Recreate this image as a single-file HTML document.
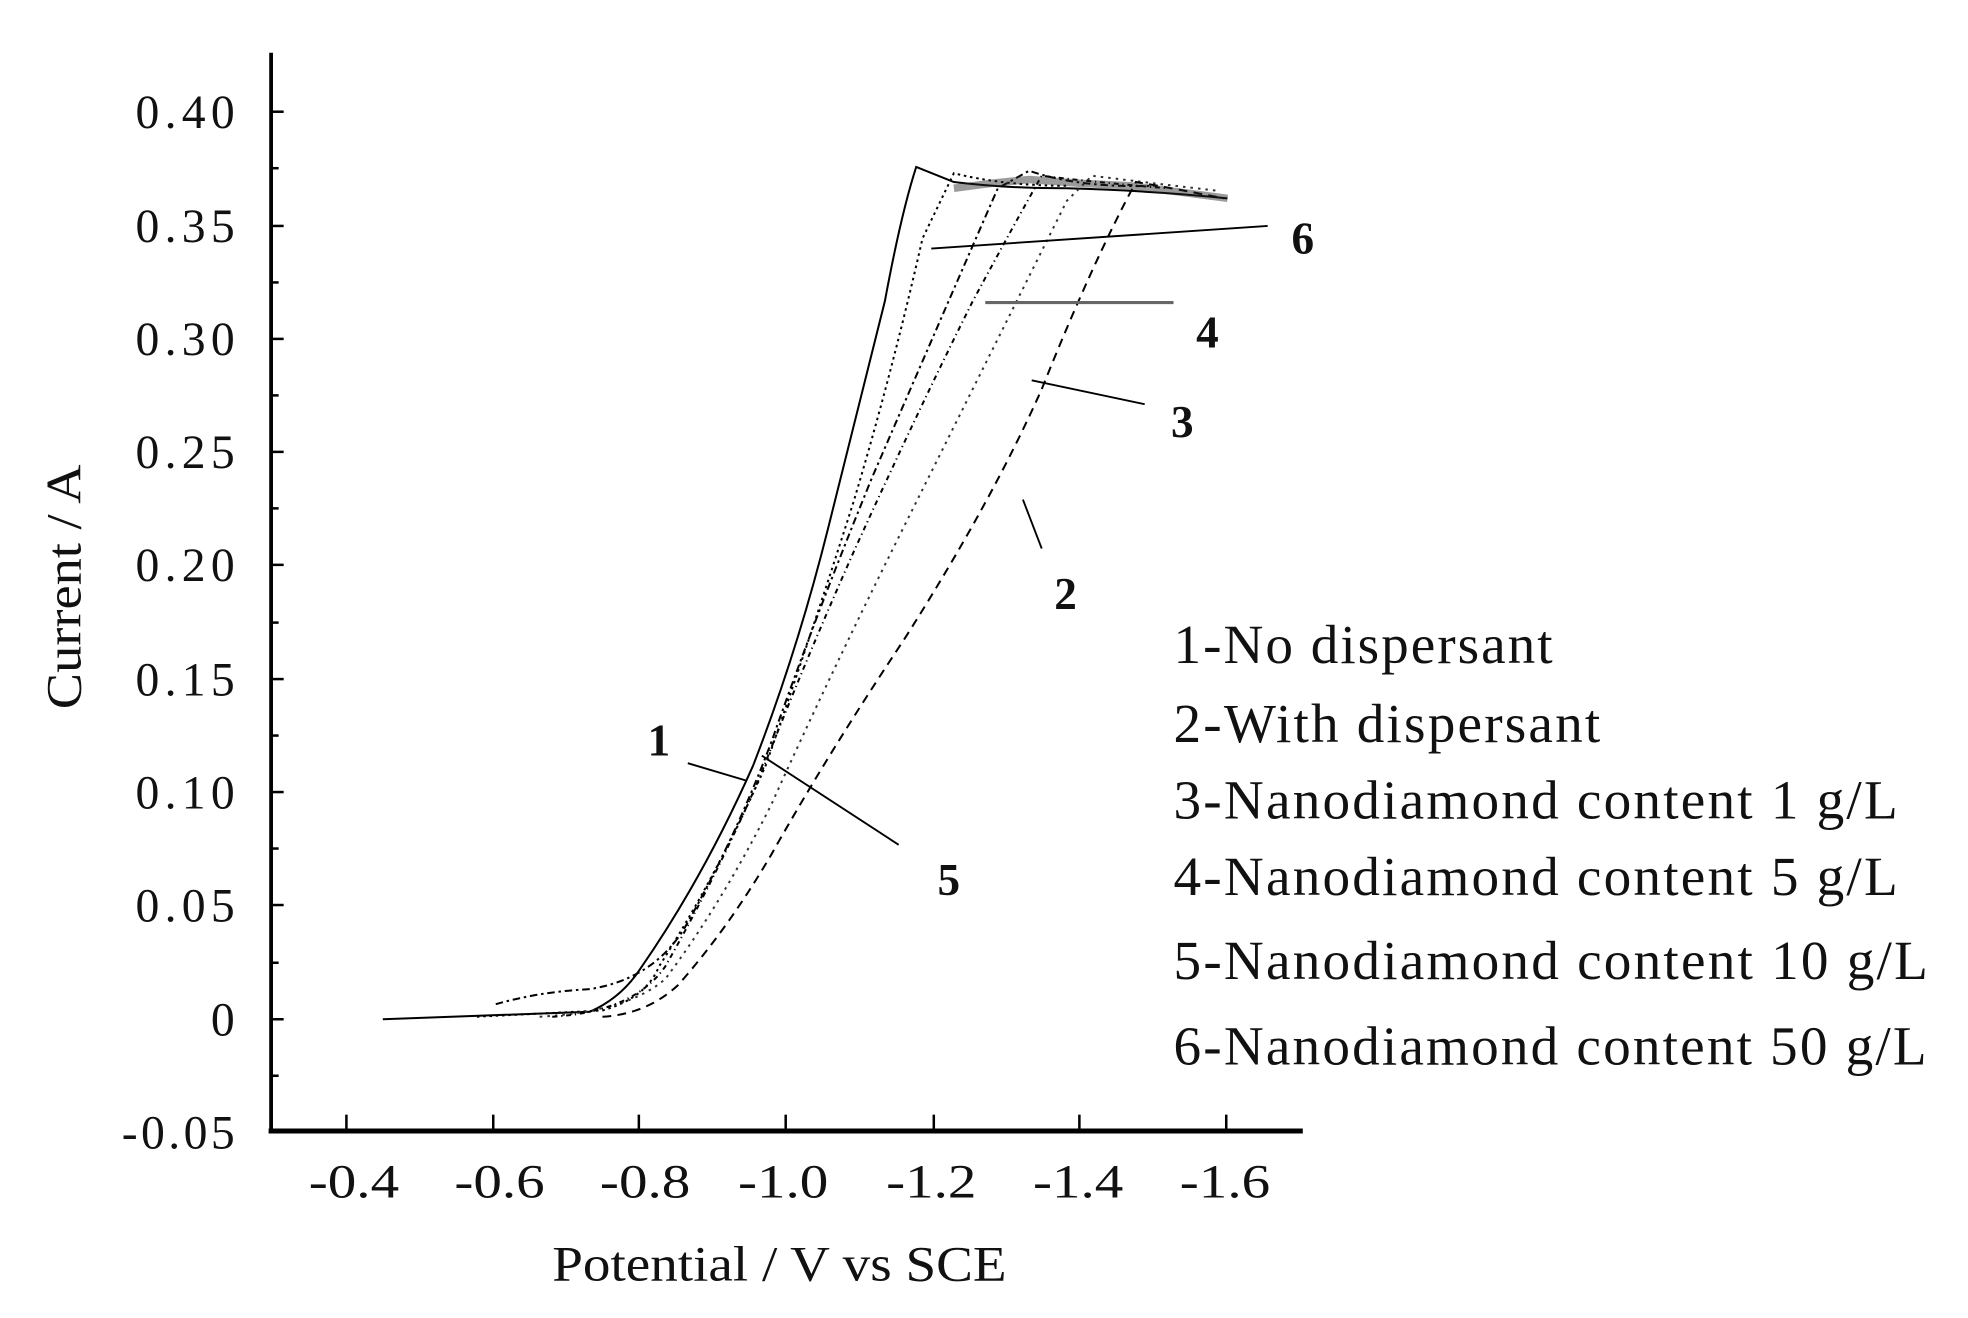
<!DOCTYPE html>
<html><head><meta charset="utf-8"><style>
html,body{margin:0;padding:0;background:#fff;}
svg{display:block;}
text{font-family:"Liberation Serif",serif;fill:#111;}
</style></head><body>
<svg width="1968" height="1318" viewBox="0 0 1568 1050" preserveAspectRatio="none" xmlns="http://www.w3.org/2000/svg">
<rect width="1568" height="1050" fill="#fff"/>
<!-- axes -->
<line x1="216" y1="42" x2="216" y2="902" stroke="#000" stroke-width="3"/>
<line x1="214" y1="901" x2="1038" y2="901" stroke="#000" stroke-width="4"/>
<g stroke="#000" stroke-width="2">
<line x1="216" y1="89" x2="226" y2="89"/><line x1="216" y1="134" x2="222" y2="134"/>
<line x1="216" y1="180" x2="226" y2="180"/><line x1="216" y1="225" x2="222" y2="225"/>
<line x1="216" y1="270" x2="226" y2="270"/><line x1="216" y1="315" x2="222" y2="315"/>
<line x1="216" y1="360" x2="226" y2="360"/><line x1="216" y1="405" x2="222" y2="405"/>
<line x1="216" y1="450" x2="226" y2="450"/><line x1="216" y1="496" x2="222" y2="496"/>
<line x1="216" y1="541" x2="226" y2="541"/><line x1="216" y1="586" x2="222" y2="586"/>
<line x1="216" y1="631" x2="226" y2="631"/><line x1="216" y1="676" x2="222" y2="676"/>
<line x1="216" y1="721" x2="226" y2="721"/><line x1="216" y1="767" x2="222" y2="767"/>
<line x1="216" y1="812" x2="226" y2="812"/><line x1="216" y1="857" x2="222" y2="857"/>
<line x1="276" y1="901" x2="276" y2="888"/><line x1="393" y1="901" x2="393" y2="888"/>
<line x1="509" y1="901" x2="509" y2="888"/><line x1="626" y1="901" x2="626" y2="888"/>
<line x1="744" y1="901" x2="744" y2="888"/><line x1="860" y1="901" x2="860" y2="888"/>
<line x1="977" y1="901" x2="977" y2="888"/>
</g>
<g font-size="38" text-anchor="end" lengthAdjust="spacingAndGlyphs">
<text x="187" y="102" textLength="79">0.40</text><text x="187" y="193" textLength="79">0.35</text><text x="187" y="283" textLength="79">0.30</text>
<text x="187" y="373" textLength="79">0.25</text><text x="187" y="463" textLength="79">0.20</text><text x="187" y="554" textLength="79">0.15</text>
<text x="187" y="644" textLength="79">0.10</text><text x="187" y="734" textLength="79">0.05</text><text x="187" y="825">0</text>
<text x="187" y="915" textLength="90">-0.05</text>
</g>
<g font-size="38" text-anchor="middle">
<text x="282" y="954" textLength="72" lengthAdjust="spacingAndGlyphs">-0.4</text><text x="398" y="954" textLength="72" lengthAdjust="spacingAndGlyphs">-0.6</text><text x="514" y="954" textLength="72" lengthAdjust="spacingAndGlyphs">-0.8</text>
<text x="624" y="954" textLength="72" lengthAdjust="spacingAndGlyphs">-1.0</text><text x="742" y="954" textLength="72" lengthAdjust="spacingAndGlyphs">-1.2</text><text x="859" y="954" textLength="72" lengthAdjust="spacingAndGlyphs">-1.4</text>
<text x="976" y="954" textLength="72" lengthAdjust="spacingAndGlyphs">-1.6</text>
</g>
<text x="440" y="1020" font-size="40" textLength="362" lengthAdjust="spacingAndGlyphs">Potential / V vs SCE</text>
<text transform="translate(64,565) rotate(-90)" font-size="40" textLength="195" lengthAdjust="spacingAndGlyphs">Current / A</text>
<!-- curves -->
<g fill="none" stroke="#000" stroke-width="1.6">
<path d="M305,812 L470,806 Q495,795 510,772 Q560,700 600,610 Q635,520 660,420 Q685,320 705,240 Q718,170 730,133 L760,145 Q800,150 850,150 Q920,152 978,158"/>
<path d="M380,810 L480,805 Q515,795 525,770 Q570,700 610,610 Q645,510 680,400 Q710,300 735,190 L760,138 Q800,148 850,148" stroke-dasharray="2,3"/>
<path d="M395,800 Q430,790 470,788 Q520,780 545,740 Q585,670 615,590 Q650,490 695,380 Q760,230 795,150 L820,136 Q860,150 920,148" stroke-dasharray="6,3,2,3"/>
<path d="M430,810 Q500,806 530,780 Q575,720 615,640 Q660,540 720,420 Q790,280 850,160 L870,140 Q910,145 970,152" stroke-dasharray="2,4" stroke="#333"/>
<path d="M440,810 Q505,806 530,770 Q570,700 605,620 Q640,530 680,440 Q730,330 775,240 Q810,175 830,140 Q870,145 930,150" stroke-dasharray="4,3,1,3"/>
<path d="M480,810 Q515,808 540,785 Q580,740 615,680 Q660,600 720,510 Q790,400 830,310 Q870,210 905,145 Q935,150 975,158" stroke-dasharray="7,5"/>
</g>
<path d="M760,150 L790,146 L820,143 L860,146 L900,148 L940,153 L978,158" stroke="#222" stroke-width="6" fill="none" opacity="0.45"/>
<!-- leaders -->
<g stroke="#000" stroke-width="1.5">
<line x1="742" y1="198" x2="1010" y2="180"/>
<line x1="785" y1="241" x2="935" y2="241" stroke="#666" stroke-width="2.5"/>
<line x1="822" y1="303" x2="912" y2="322"/>
<line x1="815" y1="398" x2="830" y2="437"/>
<line x1="548" y1="608" x2="595" y2="622"/>
<line x1="607" y1="602" x2="716" y2="673"/>
</g>
<g font-size="36" font-weight="bold" text-anchor="middle">
<text x="1038" y="202">6</text><text x="962" y="277">4</text><text x="942" y="348">3</text>
<text x="849" y="485">2</text><text x="525" y="602">1</text><text x="756" y="713">5</text>
</g>
<g font-size="44" lengthAdjust="spacingAndGlyphs">
<text x="935" y="528" textLength="302">1-No dispersant</text>
<text x="935" y="591" textLength="340">2-With dispersant</text>
<text x="935" y="652" textLength="577">3-Nanodiamond content 1 g/L</text>
<text x="935" y="713" textLength="577">4-Nanodiamond content 5 g/L</text>
<text x="935" y="780" textLength="601">5-Nanodiamond content 10 g/L</text>
<text x="935" y="848" textLength="600">6-Nanodiamond content 50 g/L</text>
</g>
</svg>
</body></html>
